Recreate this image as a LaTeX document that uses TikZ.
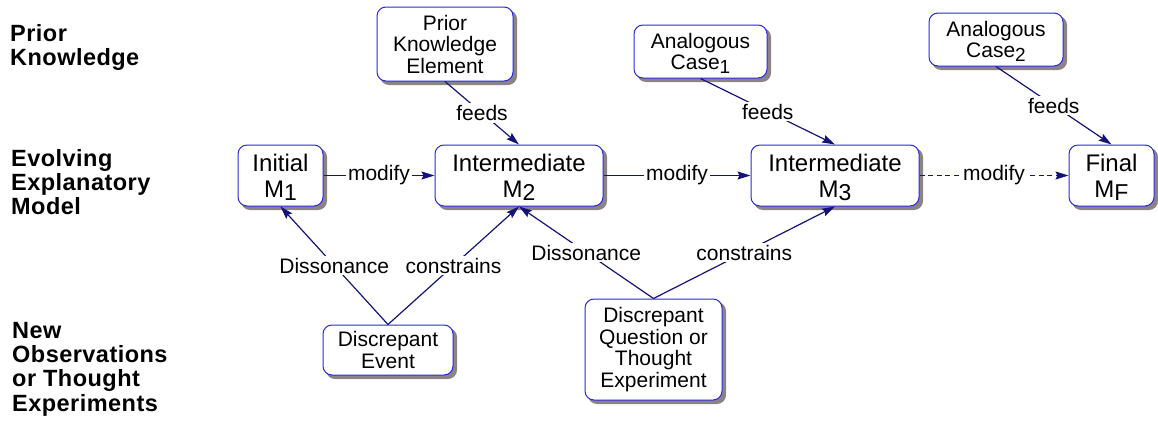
\documentclass[tikz,border=0pt]{standalone}
\usepackage{fontspec}
\setmainfont{Liberation Sans}
\newfontfamily\sidefont{Liberation Sans}[LetterSpace=2]
\usetikzlibrary{arrows.meta,backgrounds}
\definecolor{boxblue}{RGB}{40,40,225}
\definecolor{conncol}{RGB}{20,20,120}
\definecolor{shadowgray}{RGB}{140,132,132}
\newcommand\casesubx[1]{\raisebox{-4pt}[0pt][0pt]{\fontsize{19}{19}\selectfont #1}}
\newcommand\modelsubx[1]{\raisebox{-3.5pt}[0pt][0pt]{\fontsize{23}{23}\selectfont #1}}
\begin{document}
\begin{tikzpicture}[x=1pt,y=-1pt,
  box/.style={draw=boxblue, line width=1pt, rounded corners=9pt, fill=white, inner sep=0pt, align=center, text=black},
  smallbox/.style={box, font=\fontsize{21}{21.5}\selectfont},
  modelbox/.style={box, font=\fontsize{24}{26}\selectfont, minimum height=61pt},
  boxshadow/.style={fill=shadowgray, rounded corners=9pt},
  conn/.style={draw=conncol, line width=1.2pt, -{Stealth[length=13pt,width=8pt,inset=2pt]}},
  lbl/.style={fill=white, inner sep=2pt, font=\fontsize{21}{21}\selectfont, text=black},
  side/.style={anchor=north west, align=left, inner sep=0pt, font=\sidefont\bfseries\fontsize{23.5}{24.3}\selectfont}]
\useasboundingbox (0,0) rectangle (1158,421);

% row labels
\node[side] (pk) at (10,24) {Prior\\Knowledge};
\node[side] (eem) at (11,149) {Evolving\\Explanatory\\Model};
\node[side] (nob) at (12,322) {New\\Observations\\or Thought\\Experiments};

% boxes
\node[smallbox, minimum width=136pt, minimum height=74pt] (pke) at (445,44) {Prior\\Knowledge\\Element};
\node[smallbox, minimum width=133pt, minimum height=53pt] (case1) at (700.5,51.5) {Analogous\\Case\casesubx{1}};
\node[smallbox, minimum width=134pt, minimum height=53pt] (case2) at (996,39.5) {Analogous\\Case\casesubx{2}};
\node[modelbox, minimum width=85pt] (m1) at (280.5,175.5) {Initial\\M\modelsubx{1}};
\node[modelbox, minimum width=168pt] (m2) at (519,175.5) {Intermediate\\M\modelsubx{2}};
\node[modelbox, minimum width=168pt] (m3) at (835,175.5) {Intermediate\\M\modelsubx{3}};
\node[modelbox, minimum width=85pt] (mf) at (1111.5,175.5) {Final\\M\modelsubx{F}};
\node[smallbox, minimum width=130pt, minimum height=50pt] (de) at (388,350) {Discrepant\\Event};
\node[smallbox, minimum width=137pt, minimum height=101pt] (dq) at (653.5,349.5) {Discrepant\\Question or\\Thought\\Experiment};

% shadows
\begin{scope}[on background layer]
\foreach \n in {pke,case1,case2,m1,m2,m3,mf,de,dq}
  \fill[boxshadow] ([shift={(3.5pt,-3.5pt)}]\n.south west) rectangle ([shift={(3.5pt,-3.5pt)}]\n.north east);
\end{scope}

% connectors
\draw[conn] (pke.south) -- node[lbl, midway] {feeds} (m2.north);
\draw[conn] (case1.south) -- node[lbl, midway] {feeds} (m3.north);
\draw[conn] (case2.south) -- node[lbl, midway] {feeds} (mf.north);
\draw[conn] (m1.east) -- node[lbl, midway] {modify} (m2.west);
\draw[conn] (m2.east) -- node[lbl, midway] {modify} (m3.west);
\draw[conn, dash pattern=on 5pt off 3.5pt] (m3.east) -- node[lbl, midway] {modify} (mf.west);
\draw[conn] (de.north) -- node[lbl, midway] {Dissonance} (m1.south);
\draw[conn] (de.north) -- node[lbl, midway] {constrains} (m2.south);
\draw[conn] (dq.north) -- node[lbl, midway] {Dissonance} (m2.south);
\draw[conn] (dq.north) -- node[lbl, midway] {constrains} (m3.south);
\end{tikzpicture}
\end{document}
